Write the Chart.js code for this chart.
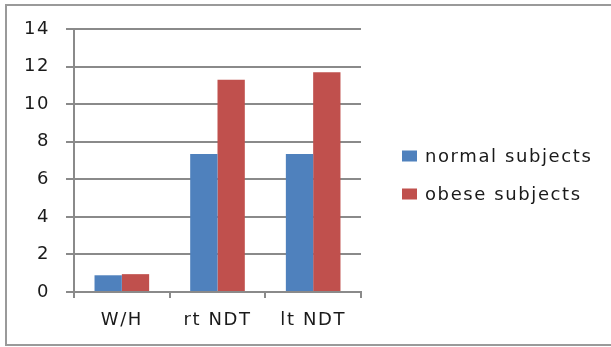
<!DOCTYPE html>
<html>
<head>
<meta charset="utf-8">
<script src="https://cdn.jsdelivr.net/npm/chart.js@4/dist/chart.umd.min.js"></script>
<style>
  html, body { margin: 0; padding: 0; background: #fff; }
  #wrap { width: 611px; height: 347px; position: relative; }
</style>
</head>
<body>
<div id="wrap"><canvas id="c"></canvas></div>
<script>
// Categories and series
const categories = ['W/H', 'rt NDT', 'lt NDT'];
const normalSubjects = [0.89, 7.35, 7.35];
const obeseSubjects = [0.95, 11.3, 11.7];
const yTicks = [0, 2, 4, 6, 8, 10, 12, 14];

const TEXT = '#1a1a1a';
const GRID = '#8a8a8a';
const FONT = { family: 'DejaVu Sans', size: 18 };
const LETTER_SPACING = '1.6px';

// Slightly widened lettering for all canvas text
const spacing = {
  id: 'spacing',
  beforeUpdate(chart) { chart.ctx.letterSpacing = LETTER_SPACING; },
  beforeDraw(chart) { chart.ctx.letterSpacing = LETTER_SPACING; }
};

// Frame around the chart (left, top, bottom edges)
const frame = {
  id: 'frame',
  beforeDraw(chart) {
    const ctx = chart.ctx;
    ctx.save();
    ctx.strokeStyle = '#9a9a9a';
    ctx.lineWidth = 2;
    ctx.beginPath();
    ctx.moveTo(611, 5);
    ctx.lineTo(6, 5);
    ctx.lineTo(6, 345);
    ctx.lineTo(611, 345);
    ctx.stroke();
    ctx.restore();
  }
};

// Series key to the right of the plot, one row per dataset
const sideLegend = {
  id: 'sideLegend',
  afterDraw(chart) {
    const ctx = chart.ctx;
    const area = chart.chartArea;
    const boxX = area.right + 41;
    const rowGap = 38;
    const firstY = 156;
    ctx.save();
    ctx.letterSpacing = LETTER_SPACING;
    ctx.font = `${FONT.size}px "${FONT.family}"`;
    ctx.textBaseline = 'middle';
    ctx.textAlign = 'left';
    chart.data.datasets.forEach((ds, i) => {
      const y = firstY + i * rowGap;
      ctx.fillStyle = ds.backgroundColor;
      ctx.fillRect(boxX, y - 5.5, 15, 11);
      ctx.fillStyle = TEXT;
      ctx.fillText(ds.label, boxX + 23, y + 1);
    });
    ctx.restore();
  }
};

new Chart(document.getElementById('c'), {
  type: 'bar',
  data: {
    labels: categories,
    datasets: [
      { label: 'normal subjects', data: normalSubjects, backgroundColor: '#4F81BD',
        categoryPercentage: 0.571, barPercentage: 1.0 },
      { label: 'obese subjects', data: obeseSubjects, backgroundColor: '#C0504D',
        categoryPercentage: 0.571, barPercentage: 1.0 }
    ]
  },
  options: {
    responsive: true,
    maintainAspectRatio: false,
    animation: false,
    layout: { padding: { top: 29, bottom: 0, left: 0, right: 250 } },
    plugins: {
      legend: { display: false },
      tooltip: { enabled: false }
    },
    scales: {
      x: {
        grid: { offset: true, drawOnChartArea: false, color: GRID, lineWidth: 2, tickLength: 6 },
        border: { display: true, color: GRID, width: 2 },
        ticks: { font: FONT, color: TEXT, padding: 12 },
        afterFit(s) { s.height = 55; }
      },
      y: {
        min: 0, max: 14,
        afterBuildTicks(s) { s.ticks = yTicks.map(v => ({ value: v })); },
        grid: { color: GRID, lineWidth: 2, tickLength: 8 },
        border: { display: true, color: GRID, width: 2 },
        ticks: { font: FONT, color: TEXT, padding: 16 },
        afterFit(s) { s.width = 74; }
      }
    }
  },
  plugins: [spacing, frame, sideLegend]
});
</script>
</body>
</html>
